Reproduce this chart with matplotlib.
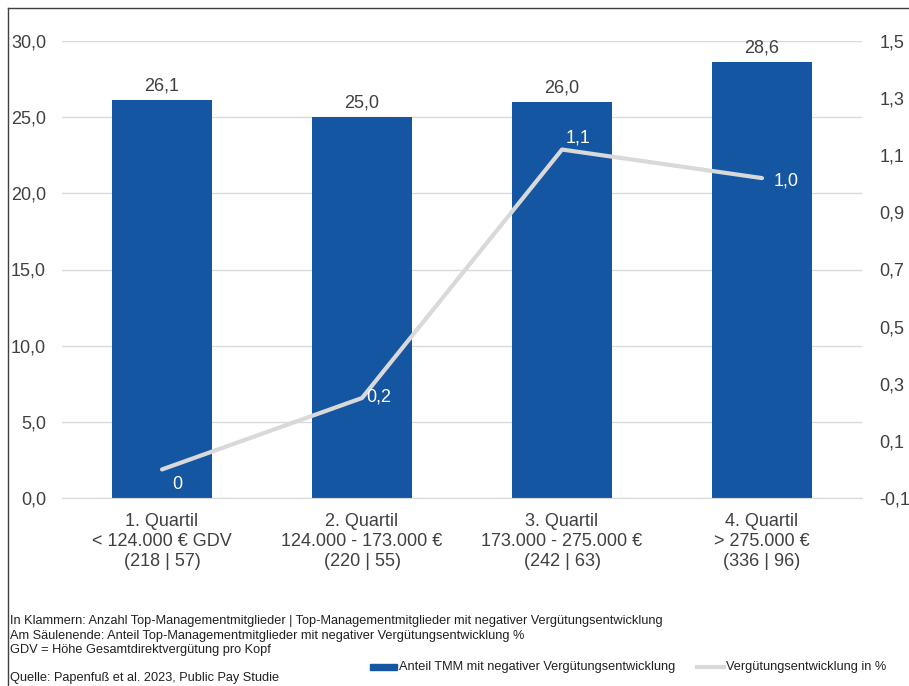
import numpy as np
import matplotlib.pyplot as plt
from matplotlib.lines import Line2D

plt.rcParams['font.family'] = ['Liberation Sans', 'DejaVu Sans']

# Quartile data
categories = [
    "1. Quartil\n< 124.000 € GDV\n(218 | 57)",
    "2. Quartil\n124.000 - 173.000 €\n(220 | 55)",
    "3. Quartil\n173.000 - 275.000 €\n(242 | 63)",
    "4. Quartil\n> 275.000 €\n(336 | 96)",
]
share_negative = [26.1, 25.0, 26.0, 28.6]          # bars, left axis (%)
pay_change = [0.0, 0.25, 1.12, 1.02]               # line, right axis (%)

left_ticks = np.arange(0, 30.1, 5)
right_ticks = np.arange(-0.1, 1.51, 0.2)

notes = [
    "In Klammern: Anzahl Top-Managementmitglieder | Top-Managementmitglieder mit negativer Vergütungsentwicklung",
    "Am Säulenende: Anteil Top-Managementmitglieder mit negativer Vergütungsentwicklung %",
    "GDV = Höhe Gesamtdirektvergütung pro Kopf",
]
source = "Quelle: Papenfuß et al. 2023, Public Pay Studie"

blue = '#1556a3'
grey_line = '#d9d9d9'
text_col = '#404040'
W, H = 909, 686
fs = 13
small = 9.2


def de(v):
    if v == 0:
        return "0"
    return f"{round(v, 1):.1f}".replace('.', ',')


fig = plt.figure(figsize=(W / 100, H / 100), dpi=100)
ax = fig.add_axes([62 / W, 1 - 498 / H, 800 / W, 457 / H])
ax2 = ax.twinx()

x = np.arange(len(categories))
ax.bar(x, share_negative, width=0.5, color=blue, zorder=2)
ax.set_xlim(-0.5, len(categories) - 0.5)
ax.set_ylim(0, 30)
ax.set_yticks(left_ticks)
ax.set_yticklabels([f"{t:.1f}".replace('.', ',') for t in left_ticks])
ax.set_xticks(x)
ax.set_xticklabels(categories, fontsize=fs, color=text_col, linespacing=1.26)
ax.grid(axis='y', color=grey_line, linewidth=1, zorder=0)
ax.set_axisbelow(True)
for s in ['top', 'right', 'left']:
    ax.spines[s].set_visible(False)
ax.spines['bottom'].set_color(grey_line)
ax.tick_params(axis='both', length=0, labelsize=fs, labelcolor=text_col)
ax.tick_params(axis='y', pad=11.5)
ax.tick_params(axis='x', pad=10.5)

for xi, v in zip(x, share_negative):
    ax.annotate(f"{v:.1f}".replace('.', ','), (xi, v), xytext=(0, 4), textcoords='offset points',
                ha='center', va='bottom', fontsize=fs, color=text_col)

ax2.plot(x, pay_change, color=grey_line, linewidth=3, solid_capstyle='round', zorder=3)
ax2.set_ylim(-0.1, 1.5)
ax2.set_yticks(right_ticks)
ax2.set_yticklabels([f"{t:.1f}".replace('.', ',') for t in right_ticks])
ax2.tick_params(axis='y', length=0, labelsize=fs, labelcolor=text_col, pad=12.5)
for s in ax2.spines.values():
    s.set_visible(False)

# label offsets in pixels (dx, dy)
offsets = [(15, -15), (17, 1), (16, 12), (24, -3)]
for xi, v, (dx, dy) in zip(x, pay_change, offsets):
    ax2.annotate(de(v), (xi, v), xytext=(dx * 0.72, dy * 0.72), textcoords='offset points',
                 ha='center', va='center', fontsize=fs, color='white', zorder=4)

# footnotes
for i, line in enumerate(notes):
    fig.text(10 / W, 1 - (621 + i * 14.5) / H, line, fontsize=small, color='#202020', va='center')
fig.text(10 / W, 1 - 678 / H, source, fontsize=small, color='#202020', va='center')

# legend
fig.patches.append(plt.Rectangle((370 / W, 1 - 670 / H), 27 / W, 6 / H,
                                 transform=fig.transFigure, color=blue))
fig.text(399 / W, 1 - 667 / H, "Anteil TMM mit negativer Vergütungsentwicklung",
         fontsize=small, color='#202020', va='center')
fig.lines.append(Line2D([697 / W, 724 / W], [1 - 667 / H, 1 - 667 / H], transform=fig.transFigure,
                        color=grey_line, linewidth=3))
fig.text(726 / W, 1 - 667 / H, "Vergütungsentwicklung in %",
         fontsize=small, color='#202020', va='center')

# outer frame (left and top edges)
fig.lines.append(Line2D([8 / W, 8 / W], [0, 1 - 8 / H], transform=fig.transFigure, color='#404040', linewidth=1))
fig.lines.append(Line2D([8 / W, 1], [1 - 8 / H, 1 - 8 / H], transform=fig.transFigure, color='#404040', linewidth=1))

fig.savefig('out.png', dpi=100)
